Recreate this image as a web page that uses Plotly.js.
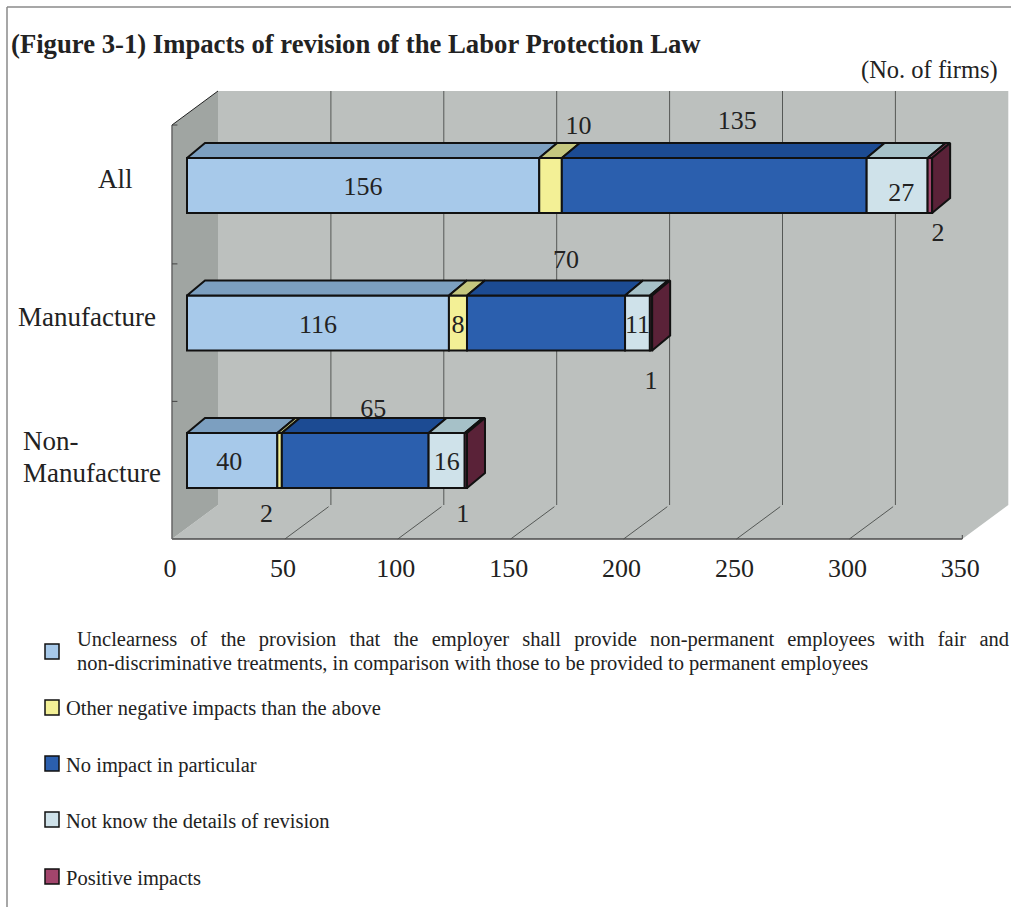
<!DOCTYPE html>
<html>
<head>
<meta charset="utf-8">
<script src="https://cdn.plot.ly/plotly-3.0.1.min.js"></script>
<style>html,body{margin:0;padding:0;background:#fff;}</style>
</head>
<body>
<div id="chart" style="width:1011px;height:907px;"></div>
<script>
// Firms by impact of the law revision, one row per group (top row first in the arrays).
const categories = ['All', 'Manufacture', 'Non-<br>Manufacture'];
const unclear  = [156, 116, 40];
const other    = [10, 8, 2];
const noImpact = [135, 70, 65];
const notKnown = [27, 11, 16];
const positive = [2, 1, 1];
const xTicks   = [0, 50, 100, 150, 200, 250, 300, 350];

const seriesNames = [
  'Unclearness of the provision that the employer shall provide non-permanent employees with fair and',
  'Other negative impacts than the above',
  'No impact in particular',
  'Not know the details of revision',
  'Positive impacts'
];
const seriesValues = [unclear, other, noImpact, notKnown, positive];
const frontColors = ['#a7c9ea', '#f3f096', '#2b5fae', '#cfe2ea', '#a2456c'];
const topColors   = ['#7c9fc0', '#c5c77f', '#1c4b93', '#a6c1c8', '#7c3652'];
const sideColor   = '#5a2238';
const edge = '#111111';
const textColor = '#222222';
const serif = '"Liberation Serif", serif';

// Row position on the y axis (one unit per group) and pseudo-3D depth, in axis units.
const rowY = [2, 1, 0];
const PX_X = 2.258, PX_Y = 137.5;
const barHalf = 0.2;
const barLead = 15 / PX_X;        // bars stand off from the front of the floor
const barDepthX = 18 / PX_X, barDepthY = 15 / PX_Y;
const wallDepthX = 46 / PX_X, wallDepthY = 34 / PX_Y;
const floorY = -78.5 / PX_Y, wallTopY = 335.5 / PX_Y;  // front-left corner heights
const axisMax = 350;

const traces = [];
const stack = categories.map(() => 0);

// Front faces are stacked bars with an explicit base.
const segments = seriesValues.map((vals, s) => {
  const starts = vals.map((v, i) => barLead + stack[i]);
  vals.forEach((v, i) => { stack[i] += v; });
  traces.push({
    type: 'bar', orientation: 'h', y: rowY, x: vals, base: starts, width: barHalf * 2,
    marker: {color: frontColors[s], line: {color: edge, width: 2}},
    showlegend: false, hoverinfo: 'skip'
  });
  return starts;
});

// Value labels; offsets in screen pixels from the segment centre.
const labelShift = [
  [[0, -3], [28, 58], [23, 63], [4, -9], [8, -49]],
  [[0, -3], [0, -3], [20, 62], [0, -3], [0, -59]],
  [[-3, -3], [-13, -55], [18, 50], [0, -3], [-3, -55]]
];
const lx = [], ly = [], lt = [];
seriesValues.forEach((vals, s) => vals.forEach((v, i) => {
  const [dx, dy] = labelShift[i][s];
  lx.push(segments[s][i] + v / 2 + dx / PX_X);
  ly.push(rowY[i] + dy / PX_Y);
  lt.push(String(v));
}));
traces.push({
  type: 'scatter', mode: 'text', x: lx, y: ly, text: lt, textposition: 'middle center',
  textfont: {family: serif, size: 26, color: textColor}, showlegend: false, hoverinfo: 'skip'
});

// Top faces and the end cap of each stack, drawn after the labels so they can overlap them.
function face(xs, ys, color) {
  traces.push({
    type: 'scatter', mode: 'lines', x: xs.concat(xs[0]), y: ys.concat(ys[0]), fill: 'toself',
    fillcolor: color, line: {color: edge, width: 2}, showlegend: false, hoverinfo: 'skip'
  });
}
categories.forEach((c, i) => {
  const top = rowY[i] + barHalf, bot = rowY[i] - barHalf;
  seriesValues.forEach((vals, s) => {
    const x0 = segments[s][i], x1 = x0 + vals[i];
    face([x0, x1, x1 + barDepthX, x0 + barDepthX], [top, top, top + barDepthY, top + barDepthY], topColors[s]);
  });
  const end = barLead + stack[i];
  face([end, end + barDepthX, end + barDepthX, end], [top, top + barDepthY, bot + barDepthY, bot], sideColor);
});

// Chart box: back wall, floor, left wall and grid, all behind the bars.
function poly(pts, fill) {
  return {
    type: 'path', xref: 'x', yref: 'y', layer: 'below',
    path: 'M' + pts.map(p => p[0] + ',' + p[1]).join('L') + 'Z',
    fillcolor: fill, line: {color: 'rgba(0,0,0,0)', width: 0}
  };
}
function seg(a, b, color, width) {
  return {
    type: 'line', xref: 'x', yref: 'y', layer: 'below',
    x0: a[0], y0: a[1], x1: b[0], y1: b[1], line: {color, width}
  };
}
const wallColor = '#bcc0be', sideWall = '#a0a5a2';
const grid = '#555856';
const backFloor = floorY + wallDepthY, backTop = wallTopY + wallDepthY;
const shapes = [
  poly([[wallDepthX, backFloor], [axisMax + wallDepthX, backFloor], [axisMax + wallDepthX, backTop], [wallDepthX, backTop]], wallColor),
  poly([[0, floorY], [axisMax, floorY], [axisMax + wallDepthX, backFloor], [wallDepthX, backFloor]], wallColor),
  poly([[0, floorY], [wallDepthX, backFloor], [wallDepthX, backTop], [0, wallTopY]], sideWall)
];
xTicks.slice(1).forEach(t => {
  if (t < axisMax) {
    shapes.push(seg([t + wallDepthX, backFloor], [t + wallDepthX, backTop], grid, 1));
    shapes.push(seg([t, floorY], [t + wallDepthX * 0.95, floorY + wallDepthY * 0.95], grid, 1));
  }
});
shapes.push(seg([axisMax, floorY], [axisMax, floorY + 4 / PX_Y], '#444', 1));
shapes.push(seg([0, floorY], [axisMax, floorY], '#4a4a4a', 1.5));
shapes.push(seg([0, floorY], [0, wallTopY], '#666', 1.5));
shapes.push(seg([0, wallTopY], [wallDepthX, backTop], '#222', 1));
[2.44, 1.43, 0.43].forEach(v => shapes.push(seg([0, v], [2.4, v], '#444', 1)));

// Page frame and legend keys live in paper coordinates.
const plotH = 541;
const py = px => (plotH - px) / plotH;
const paperX = px => px / 1011;
shapes.push({type: 'line', xref: 'paper', yref: 'paper', x0: paperX(7), x1: 1, y0: py(7), y1: py(7), line: {color: '#8a8a8a', width: 1.5}});
shapes.push({type: 'line', xref: 'paper', yref: 'paper', x0: paperX(7), x1: paperX(7), y0: py(7), y1: py(907), line: {color: '#8a8a8a', width: 1.5}});

const keyTops = [644, 700, 756, 812, 869];
const textRows = [null, 708, 765, 821, 878];
keyTops.forEach((t, s) => shapes.push({
  type: 'rect', xref: 'paper', yref: 'paper', x0: paperX(45), x1: paperX(59), y0: py(t), y1: py(t + 15),
  fillcolor: frontColors[s], line: {color: edge, width: 1.5}
}));

function note(text, xPx, yPx, size, extra) {
  return Object.assign({
    text, xref: 'paper', yref: 'paper', x: paperX(xPx), y: py(yPx), showarrow: false,
    xanchor: 'left', yanchor: 'middle', align: 'left',
    font: {family: serif, size, color: textColor}
  }, extra || {});
}
const nonManufacture = categories[2].split('<br>');
const annotations = [
  note('<b>(Figure 3-1) Impacts of revision of the Labor Protection Law</b>', 9, 44, 26.7),
  note('(No. of firms)', 1000, 70, 24.5, {xanchor: 'right'}),
  note(categories[0], 115, 179, 27, {xanchor: 'center'}),
  note(categories[1], 87, 317, 27, {xanchor: 'center'}),
  note(nonManufacture[0], 21, 441, 27),
  note(nonManufacture[1], 21, 473, 27),
  note(seriesNames[0], 75, 639, 20.5),
  note('non-discriminative treatments, in comparison with those to be provided to permanent employees', 75, 663, 20.5)
];
const justifiedLine = 6;
textRows.forEach((y, s) => { if (y) annotations.push(note(seriesNames[s], 64, y, 20.5)); });

const layout = {
  width: 1011, height: 907,
  margin: {l: 0, r: 0, t: 0, b: 907 - plotH, pad: 0},
  paper_bgcolor: '#ffffff', plot_bgcolor: '#ffffff',
  barmode: 'overlay', showlegend: false,
  xaxis: {
    range: [-172 / PX_X, (1011 - 172) / PX_X], tickmode: 'array', tickvals: xTicks,
    ticktext: xTicks.map(String), ticks: 'outside', ticklen: 4, tickcolor: 'rgba(0,0,0,0)',
    ticklabelshift: -2,
    showgrid: false, zeroline: false, showline: false,
    tickfont: {family: serif, size: 26, color: textColor}
  },
  yaxis: {
    range: [(460.5 - plotH) / PX_Y, 460.5 / PX_Y], showticklabels: false, ticks: '',
    showgrid: false, zeroline: false, showline: false
  },
  shapes, annotations
};

Plotly.newPlot('chart', traces, layout, {staticPlot: true, displayModeBar: false}).then(() => {
  // The first legend line is justified to the right edge of the page.
  const el = document.querySelector('.annotation[data-index="' + justifiedLine + '"] text');
  if (el) {
    const gaps = el.textContent.split(' ').length - 1;
    el.style.wordSpacing = ((932 - el.getComputedTextLength()) / gaps) + 'px';
  }
});
</script>
</body>
</html>
